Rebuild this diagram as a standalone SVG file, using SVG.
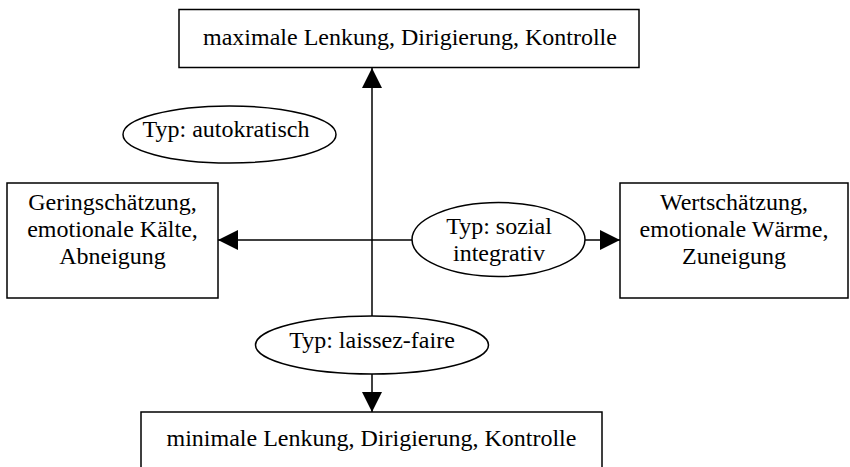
<svg xmlns="http://www.w3.org/2000/svg" width="850" height="467" viewBox="0 0 850 467">
  <style>
    .box { fill: #fff; stroke: #000; stroke-width: 1.5; }
    .ell { fill: #fff; stroke: #000; stroke-width: 1.5; }
    .lbl { font-family: "Liberation Serif", "Times New Roman", serif; font-size: 24px; fill: #000; text-anchor: middle; }
    .con { stroke: #000; stroke-width: 1.5; fill: none; marker-end: url(#arr); }
  </style>
  <defs>
    <marker id="arr" markerUnits="userSpaceOnUse" markerWidth="20" markerHeight="20" refX="20" refY="10" orient="auto">
      <path d="M0,0 L20,10 L0,20 Z" fill="#000"/>
    </marker>
  </defs>
  <rect width="850" height="467" fill="#fff"/>

  <g id="connectors">
    <line class="con" x1="372" y1="316" x2="372" y2="68"/>
    <line class="con" x1="372" y1="374" x2="372" y2="412"/>
    <line class="con" x1="412" y1="240" x2="218" y2="240"/>
    <line class="con" x1="585" y1="240" x2="620" y2="240"/>
  </g>

  <g id="top">
    <rect class="box" x="179" y="9.5" width="460" height="58"/>
    <text class="lbl" x="410" y="45">maximale Lenkung, Dirigierung, Kontrolle</text>
  </g>

  <g id="autokratisch">
    <ellipse class="ell" cx="229.5" cy="134.5" rx="106.5" ry="28.5"/>
    <text class="lbl" x="226" y="137">Typ: autokratisch</text>
  </g>

  <g id="left">
    <rect class="box" x="7" y="183" width="211" height="115"/>
    <text class="lbl" x="112.5" y="210">Geringschätzung,</text>
    <text class="lbl" x="112.5" y="237">emotionale Kälte,</text>
    <text class="lbl" x="112.5" y="264">Abneigung</text>
  </g>

  <g id="sozial">
    <ellipse class="ell" cx="498.5" cy="239.5" rx="86.5" ry="37"/>
    <text class="lbl" x="499" y="234">Typ: sozial</text>
    <text class="lbl" x="499" y="261">integrativ</text>
  </g>

  <g id="right">
    <rect class="box" x="620" y="183" width="228" height="115"/>
    <text class="lbl" x="734" y="210">Wertschätzung,</text>
    <text class="lbl" x="734" y="237">emotionale Wärme,</text>
    <text class="lbl" x="734" y="264">Zuneigung</text>
  </g>

  <g id="laissezfaire">
    <ellipse class="ell" cx="372" cy="345" rx="116.5" ry="29"/>
    <text class="lbl" x="372" y="348">Typ: laissez-faire</text>
  </g>

  <g id="bottom">
    <rect class="box" x="141" y="412" width="461" height="70"/>
    <text class="lbl" x="371.5" y="446">minimale Lenkung, Dirigierung, Kontrolle</text>
  </g>
</svg>
